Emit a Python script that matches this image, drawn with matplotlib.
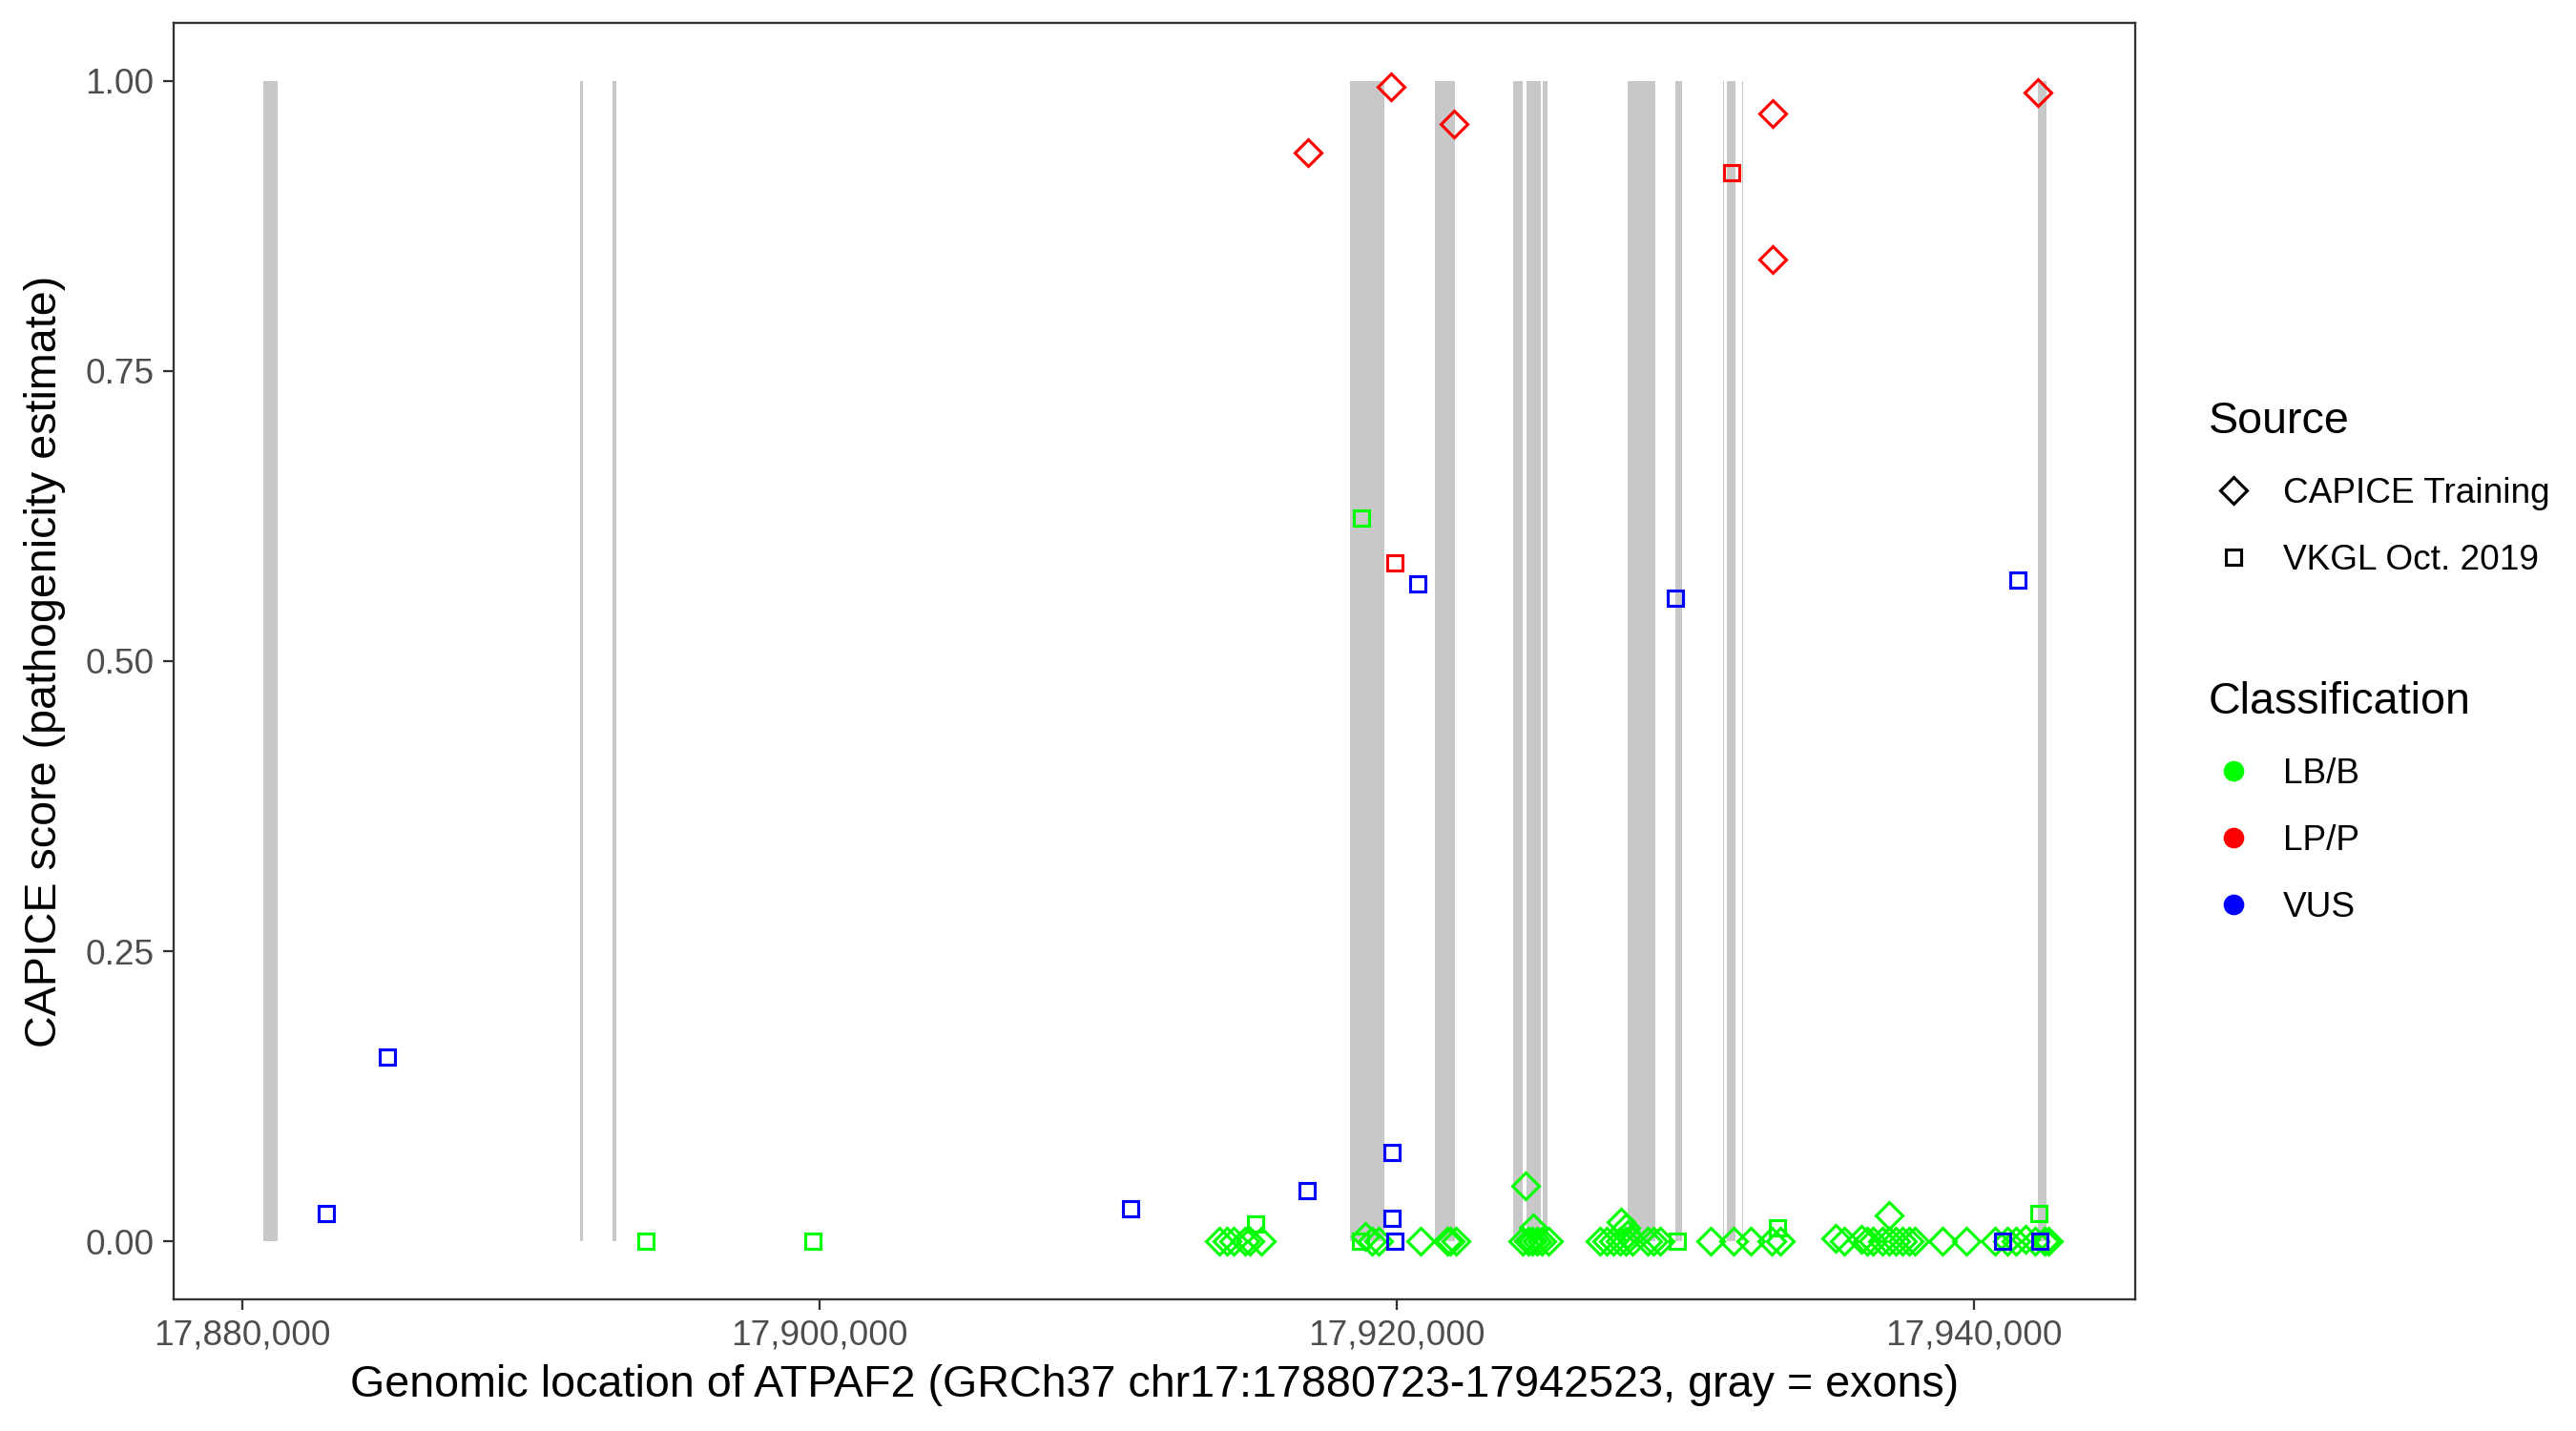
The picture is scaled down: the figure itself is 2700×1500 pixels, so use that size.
import numpy as np
import matplotlib
matplotlib.use("Agg")
import matplotlib.pyplot as plt
from matplotlib.lines import Line2D
from matplotlib.ticker import FuncFormatter

plt.rcParams['font.family'] = ['Liberation Sans', 'DejaVu Sans']

gene_start = 17880723
gene_end = 17942523

# exons (start, end) in GRCh37 coordinates
exon_start = [17880723, 17891700, 17892850, 17918389, 17921349, 17924045, 17924504,
              17925078, 17928004, 17929668, 17931310, 17931446, 17931980, 17942230]
exon_end = [17881240, 17891810, 17892950, 17919594, 17922037, 17924361, 17925020,
            17925227, 17928979, 17929897, 17931350, 17931733, 17932020, 17942523]

# CAPICE training variants
capice_lbb_pos = [17913851, 17914132, 17914356, 17914746, 17914912, 17915302,
                  17918922, 17919146, 17919370, 17920855, 17921768, 17921877, 17922049,
                  17924470, 17924751, 17924361, 17924584, 17924699, 17924866, 17925032, 17925261,
                  17927792, 17927958, 17928015, 17927057, 17927281, 17927510, 17927734,
                  17927958, 17928182, 17928692, 17928916, 17929140,
                  17930884, 17931670, 17932290, 17933018, 17933299,
                  17937057, 17935227, 17935508, 17936127, 17936299, 17936523, 17936856,
                  17937080, 17937309, 17937533, 17937757, 17937981, 17938939, 17939759,
                  17940740, 17941188, 17941469, 17941807, 17942140, 17942478, 17942600]
capice_lbb_score = [0, 0, 0, 0, 0, 0,
                    0.004, 0, 0, 0, 0, 0, 0,
                    0.048, 0.012, 0, 0, 0, 0, 0, 0,
                    0.017, 0.012, 0.006, 0, 0, 0, 0,
                    0, 0, 0, 0, 0,
                    0, 0, 0, 0, 0,
                    0.022, 0.003, 0, 0.002, 0, 0, 0,
                    0, 0, 0, 0, 0, 0, 0,
                    0, 0, 0, 0.002, 0, 0, 0]
capice_lpp_pos = [17916931, 17919800, 17921980, 17933052, 17933052, 17942232]
capice_lpp_score = [0.938, 0.995, 0.963, 0.972, 0.846, 0.990]

# VKGL Oct. 2019 variants
vkgl_lbb_pos = [17893983, 17899778, 17915130, 17918756, 17918790, 17929736, 17933219, 17942255]
vkgl_lbb_score = [0, 0, 0.015, 0, 0.623, 0, 0.012, 0.024]
vkgl_lpp_pos = [17919949, 17931618]
vkgl_lpp_score = [0.585, 0.921]
vkgl_vus_pos = [17882911, 17885034, 17910793, 17916891, 17919840, 17919840, 17919961,
                17920729, 17929673, 17941520, 17941015, 17942312]
vkgl_vus_score = [0.024, 0.159, 0.028, 0.044, 0.077, 0.020, 0,
                  0.567, 0.554, 0.570, 0, 0]

col_lbb = '#00FF00'
col_lpp = '#FF0000'
col_vus = '#0000FF'

fig = plt.figure(figsize=(9, 5), dpi=300)
ax = fig.add_axes([0.0675, 0.092, 0.7615, 0.892])

widths = np.array(exon_end) - np.array(exon_start)
ax.bar(exon_start, 1.0, width=widths, bottom=0, align='edge', color='#C8C8C8', linewidth=0, zorder=1)

dkw = dict(marker='D', linestyle='none', markerfacecolor='none', markersize=4.8, markeredgewidth=0.75, zorder=3)
skw = dict(marker='s', linestyle='none', markerfacecolor='none', markersize=4.0, markeredgewidth=0.75, zorder=3)

ax.plot(capice_lbb_pos, capice_lbb_score, markeredgecolor=col_lbb, **dkw)
ax.plot(capice_lpp_pos, capice_lpp_score, markeredgecolor=col_lpp, **dkw)
ax.plot(vkgl_lbb_pos, vkgl_lbb_score, markeredgecolor=col_lbb, **skw)
ax.plot(vkgl_lpp_pos, vkgl_lpp_score, markeredgecolor=col_lpp, **skw)
ax.plot(vkgl_vus_pos, vkgl_vus_score, markeredgecolor=col_vus, **skw)

span = gene_end - gene_start
ax.set_xlim(gene_start - 0.05 * span, gene_end + 0.05 * span)
ax.set_ylim(-0.05, 1.05)
ax.set_xticks([17880000, 17900000, 17920000, 17940000])
ax.xaxis.set_major_formatter(FuncFormatter(lambda v, p: f'{int(v):,}'))
ax.set_yticks([0, 0.25, 0.5, 0.75, 1.0])
ax.yaxis.set_major_formatter(FuncFormatter(lambda v, p: f'{v:.2f}'))

for s in ax.spines.values():
    s.set_color('#333333')
    s.set_linewidth(0.55)
ax.tick_params(direction='out', length=2.75, width=0.55, color='#333333',
               labelsize=8.9, labelcolor='#4D4D4D', pad=2.2)

ax.set_xlabel('Genomic location of ATPAF2 (GRCh37 chr17:17880723-17942523, gray = exons)',
              fontsize=11.2, labelpad=3)
ax.set_ylabel('CAPICE score (pathogenicity estimate)', fontsize=11.2, labelpad=5)

src_handles = [
    Line2D([], [], marker='D', linestyle='none', markerfacecolor='none', markeredgecolor='black',
           markersize=4.6, markeredgewidth=0.75, label='CAPICE Training'),
    Line2D([], [], marker='s', linestyle='none', markerfacecolor='none', markeredgecolor='black',
           markersize=4.0, markeredgewidth=0.75, label='VKGL Oct. 2019'),
]
cls_handles = [
    Line2D([], [], marker='o', linestyle='none', color=col_lbb, markersize=4.2, label='LB/B'),
    Line2D([], [], marker='o', linestyle='none', color=col_lpp, markersize=4.2, label='LP/P'),
    Line2D([], [], marker='o', linestyle='none', color=col_vus, markersize=4.2, label='VUS'),
]
leg1 = fig.legend(handles=src_handles, title='Source', loc='upper left',
                  bbox_to_anchor=(0.845, 0.742), frameon=False, fontsize=8.9,
                  title_fontsize=11.2, alignment='left', labelspacing=0.95,
                  handletextpad=0.7, handlelength=1.4)
leg2 = fig.legend(handles=cls_handles, title='Classification', loc='upper left',
                  bbox_to_anchor=(0.845, 0.546), frameon=False, fontsize=8.9,
                  title_fontsize=11.2, alignment='left', labelspacing=0.95,
                  handletextpad=0.7, handlelength=1.4)

fig.savefig('out.png', dpi=300, facecolor='white')
